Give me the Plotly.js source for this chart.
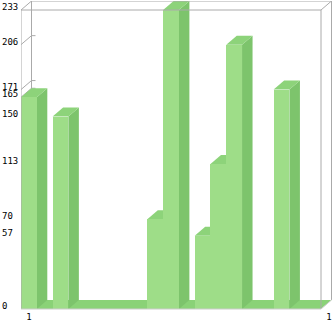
<!DOCTYPE html>
<html>
<head>
<meta charset="utf-8">
<script src="https://cdn.plot.ly/plotly-3.0.1.min.js"></script>
<style>html,body{margin:0;padding:0;background:#fff;}#chart{width:333px;height:321px;}</style>
</head>
<body>
<div id="chart"></div>
<script>
// ---- data ----
const slots = [0,1,2,3,4,5,6,7,8,9,10,11,12,13,14,15,16,17,18];
const values = [165,0,150,0,0,0,0,0,70,233,0,57,113,206,0,0,171,0,0];
const yTickVals = [0,57,70,113,150,165,171,206,233];
const yTickText = ['0','57','70','113','150','165','171','206','233'];
const xTickVals = [0,19];
const xTickText = ['1','1'];

// ---- geometry / style ----
const W = 333, H = 321;
const PLOT_L = 21, FRONT_R = 321, FRONT_T = 10, FRONT_B = 309;
const DX = 10.5, DY = 9;           // pseudo-3D depth offset in px
const PLOT_R = 332, PLOT_T = 1, PLOT_B = 310;
const yMax = 233;
const cFront = '#9edd88', cTop = '#8dd37a', cSide = '#7dc46c', cFloor = '#8ad277';
const cLine = '#aaaaaa';

const n = slots.length;
const pxX = (FRONT_R - PLOT_L) / n;
const pxY = (FRONT_B - FRONT_T) / yMax;
const dxu = DX / pxX, dyu = DY / pxY;
const x0 = -0.5, xF = n - 0.5;
const xRange = [x0, x0 + (PLOT_R - PLOT_L) / pxX];
const yRange = [-(PLOT_B - FRONT_B) / pxY, yMax + (FRONT_T - PLOT_T) / pxY];

function poly(pts, fill, layer) {
  return {type:'path', xref:'x', yref:'y', layer: layer || 'below',
    path: 'M' + pts.map(p => p[0] + ',' + p[1]).join(' L') + ' Z',
    fillcolor: fill, line:{width:0}};
}
function seg(a, b, layer, color) {
  return {type:'line', xref:'x', yref:'y', layer: layer || 'below',
    x0:a[0], y0:a[1], x1:b[0], y1:b[1], line:{color: color || cLine, width:1}};
}

const shapes = [];
// floor
shapes.push(poly([[x0,0],[xF,0],[xF+dxu,dyu],[x0+dxu,dyu]], cFloor));
// back wall edges
shapes.push(seg([x0+dxu,dyu],[x0+dxu,yMax+dyu]));
shapes.push(seg([xF+dxu,dyu],[xF+dxu,yMax+dyu]));
// tick diagonals + back-wall dashes
yTickVals.forEach(v => {
  if (v === 0 || v === yMax) return;
  shapes.push(seg([x0,v],[x0+dxu,v+dyu]));
  shapes.push(seg([x0+dxu,v+dyu],[x0+dxu+4/pxX,v+dyu]));
});
// bar sides & tops
slots.forEach((s, i) => {
  const v = values[i];
  if (!v) return;
  const l = s - 0.5, r = s + 0.5;
  shapes.push(poly([[r,0],[r,v],[r+dxu,v+dyu],[r+dxu,dyu]], cSide));
  shapes.push(poly([[l,v],[r,v],[r+dxu,v+dyu],[l+dxu,v+dyu]], cTop));
});
// frame lines on top
shapes.push(seg([x0,0],[x0,yMax],'above'));
shapes.push(seg([x0,yMax],[xF,yMax],'above'));
shapes.push(seg([x0+dxu,yMax+dyu],[xF+dxu,yMax+dyu],'above'));
shapes.push(seg([x0,yMax],[x0+dxu,yMax+dyu],'above'));
shapes.push(seg([xF,yMax],[xF+dxu,yMax+dyu],'above'));
shapes.push(seg([xF,0],[xF,yMax],'above'));
shapes.push(seg([x0,0],[xF,0],'above','#cccccc'));
shapes.push(seg([xF,0],[xF+dxu,dyu],'above','#cccccc'));

const annotations = yTickVals.map((v, i) => ({
  xref:'paper', x: -PLOT_L / (PLOT_R - PLOT_L), xanchor:'left',
  yref:'y', y: v, yanchor:'middle', yshift: 3,
  text: yTickText[i], showarrow:false,
  font:{family:'DejaVu Sans Mono', size:9, color:'#000'}
}));

const trace = {
  type:'bar', x: slots, y: values, width: 1,
  marker:{color: cFront, line:{width:0}},
  hoverinfo:'none'
};

const layout = {
  width: W, height: H,
  margin:{l:PLOT_L, r:W-PLOT_R, t:PLOT_T, b:H-PLOT_B, pad:0},
  paper_bgcolor:'#fff', plot_bgcolor:'#fff',
  showlegend:false, bargap:0,
  xaxis:{range:xRange, showgrid:false, zeroline:false, showline:false,
    tickmode:'array', tickvals:xTickVals, ticktext:xTickText, ticks:'',
    ticklabelstandoff:0,
    tickfont:{family:'DejaVu Sans Mono', size:9, color:'#000'}},
  yaxis:{range:yRange, showgrid:false, zeroline:false, showline:false,
    showticklabels:false, ticks:''},
  shapes: shapes,
  annotations: annotations
};

Plotly.newPlot('chart', [trace], layout, {staticPlot:true, displayModeBar:false});
</script>
</body>
</html>
